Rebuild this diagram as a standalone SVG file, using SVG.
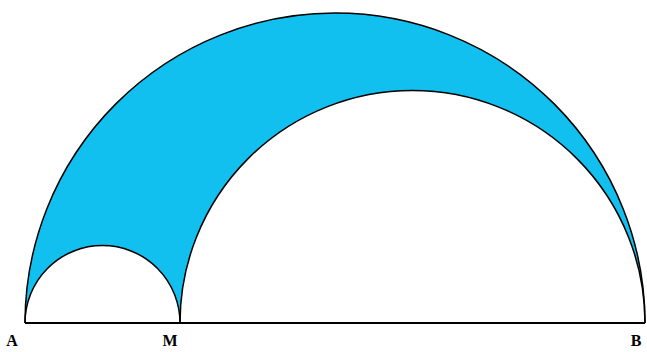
<svg xmlns="http://www.w3.org/2000/svg" width="647" height="352" viewBox="0 0 647 352">
<style>
.arc{fill:none;stroke:#000;stroke-width:1.5}
.lbl{font-family:"Liberation Serif","DejaVu Serif",serif;font-size:16px;font-weight:bold;fill:#000}
</style>
<rect width="647" height="352" fill="#fff"/>
<g id="region">
<path d="M25,323 A310,310 0 0 1 645,323 A232.5,232.5 0 0 0 180,323 A77.5,77.5 0 0 0 25,323 Z" fill="#12C0F0"/>
</g>
<g id="arcs">
<path class="arc" d="M25,323 A310,310 0 0 1 645,323"/>
<path class="arc" d="M180,323 A232.5,232.5 0 0 1 645,323"/>
<path class="arc" d="M25,323 A77.5,77.5 0 0 1 180,323"/>
<line x1="25" y1="323" x2="645" y2="323" stroke="#000" stroke-width="2"/>
</g>
<g id="labels">
<text class="lbl" x="12" y="346" text-anchor="middle">A</text>
<text class="lbl" x="170" y="346" text-anchor="middle">M</text>
<text class="lbl" x="636" y="346" text-anchor="middle">B</text>
</g>
</svg>
